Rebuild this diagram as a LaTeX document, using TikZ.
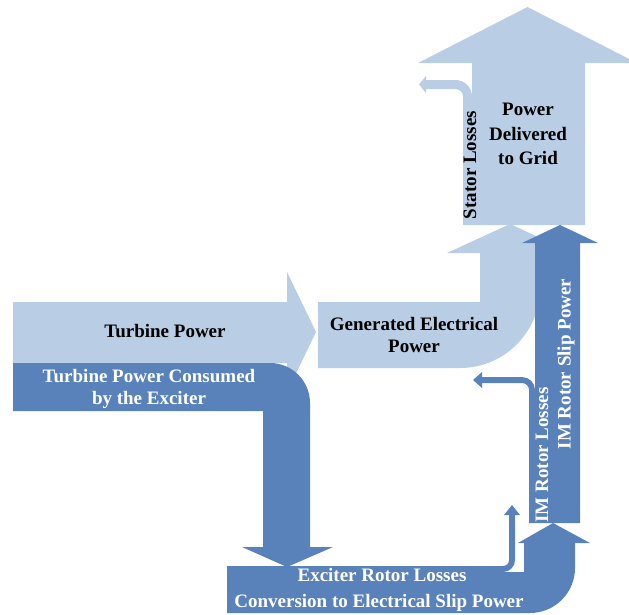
\documentclass[tikz,border=0pt]{standalone}
\usepackage{fontspec}
\setmainfont{Liberation Serif}
\usepackage{tikz}
\definecolor{flowlight}{HTML}{B9CDE5}
\definecolor{flowdark}{HTML}{5A82BA}
\tikzstyle{lightflow} = [fill=flowlight, draw=none]
\tikzstyle{darkflow} = [fill=flowdark, draw=none]
\tikzstyle{blacktext} = [font=\fontsize{19}{22}\selectfont\bfseries, align=center, text=black]
\tikzstyle{whitetext} = [blacktext, text=white]

\begin{document}
\begin{tikzpicture}[x=1pt, y=-1pt]
  \useasboundingbox (0,0) rectangle (629,614);
  % light flows
  \fill[lightflow] (13,302) -- (287,302) -- (287,272) -- (316,332) -- (287,392) -- (287,363) -- (13,363) -- cycle;
  \fill[lightflow] (318,302) -- (480,302) -- (480,253) -- (447,253) -- (510,224) -- (573,253) -- (540,253) -- (540,288) arc[start angle=0, end angle=90, radius=80] -- (318,368) -- cycle;
  \fill[lightflow] (472,225) -- (472,63) -- (418,63) -- (527.5,7) -- (637,63) -- (585,63) -- (585,225) -- cycle;
  \fill[lightflow] (463,225) -- (463,96.5) arc[start angle=0, end angle=-90, radius=7.5] -- (426,89) -- (426,93) -- (419,84.5) -- (426,76) -- (426,80) -- (455.5,80) arc[start angle=-90, end angle=0, radius=16.5] -- (472,225) -- cycle;
  % dark flows
  \fill[darkflow] (13,363) -- (270,363) arc[start angle=-90, end angle=0, radius=40] -- (310,547) -- (333,547) -- (287,567) -- (242,547) -- (263,547) -- (263,411) -- (13,411) -- cycle;
  \fill[darkflow] (227,566) -- (490,566) -- (490,572) -- (524,572) -- (524,543) -- (518,543) -- (553,523) -- (590,543) -- (575,543) -- (575,568) arc[start angle=0, end angle=90, radius=45] -- (227,613) -- cycle;
  \fill[darkflow] (480,566) -- (503,566) arc[start angle=90, end angle=0, radius=6] -- (509,515) -- (504,515) -- (512,505) -- (520,515) -- (515,515) -- (515,560) arc[start angle=0, end angle=90, radius=12] -- (480,572) -- cycle;
  \fill[darkflow] (535,523) -- (535,243) -- (522,243) -- (560,225) -- (598,243) -- (580,243) -- (580,523) -- cycle;
  \fill[darkflow] (529,523) -- (529,390) arc[start angle=0, end angle=-90, radius=7] -- (482,383) -- (482,388) -- (473,380) -- (482,372) -- (482,377) -- (522,377) arc[start angle=-90, end angle=0, radius=13] -- (535,523) -- cycle;
  % nodes
  \node[blacktext] (turbine) at (165,331) {Turbine Power};
  \node[whitetext] (consumed) at (149,389) {Turbine Power Consumed\\by the Exciter};
  \node[blacktext] (generated) at (414,335) {Generated Electrical\\Power};
  \node[blacktext, font=\fontsize{19}{24.5}\selectfont\bfseries] (grid) at (528,134) {Power\\Delivered\\to Grid};
  \node[blacktext, rotate=90] (stator) at (470,165) {Stator Losses};
  \node[whitetext, rotate=90] (slip) at (566,364) {IM Rotor Slip Power};
  \node[whitetext, rotate=90] (imloss) at (542,455) {IM Rotor Losses};
  \node[whitetext] (exciterloss) at (382,575) {Exciter Rotor Losses};
  \node[whitetext] (conversion) at (379,603) {Conversion to Electrical Slip Power};
\end{tikzpicture}
\end{document}
